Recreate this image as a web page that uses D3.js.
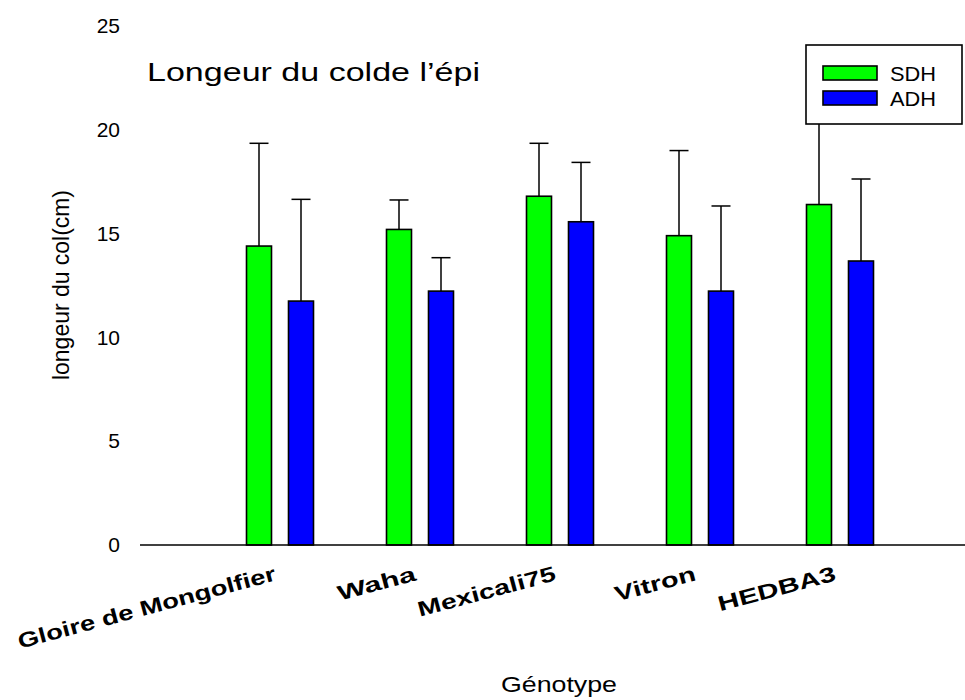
<!DOCTYPE html>
<html>
<head>
<meta charset="utf-8">
<script src="https://cdn.jsdelivr.net/npm/d3@7"></script>
<style>
  body { margin: 0; background: #fff; }
  svg { display: block; font-family: Arial, "Liberation Sans", sans-serif; }
</style>
</head>
<body>
<div id="chart"></div>
<script>
// data
var categories = ["Gloire de Mongolfier", "Waha", "Mexicali75", "Vitron", "HEDBA3"];
var sdhValues = [14.4, 15.2, 16.8, 14.9, 16.4];
var sdhErrors = [4.95, 1.42, 2.55, 4.1, 4.6];
var adhValues = [11.75, 12.23, 15.57, 12.23, 13.68];
var adhErrors = [4.9, 1.61, 2.86, 4.1, 3.95];
var yTicks = [0, 5, 10, 15, 20, 25];
var labelLengths = [266, 80, 142, 83, 121];

var width = 965, height = 700;

var svg = d3.select('#chart')
	.append('svg')
	.attr('width', width)
	.attr('height', height);

// scales
var x = d3.scaleLinear().domain([0, 6]).range([140, 980]);
var y = d3.scaleLinear().domain([0, 25]).range([545, 26]);

var barW = 25, offset = 8.5;

var series = [
	{ name: 'SDH', color: '#00ff00', values: sdhValues, errors: sdhErrors, dx: -offset - barW },
	{ name: 'ADH', color: '#0000ff', values: adhValues, errors: adhErrors, dx: offset }
];

//y axis labels only, no line or ticks
var yAxis = svg.append('g')
	.attr('transform', 'translate(126,0)')
	.call(d3.axisLeft(y).tickValues(yTicks).tickSize(0).tickPadding(6));
yAxis.select('.domain').remove();
yAxis.selectAll('text')
	.attr('font-size', 21)
	.attr('font-family', 'Arial, "Liberation Sans", sans-serif')
	.attr('fill', '#000');

// bars
series.forEach(function (s) {
	var g = svg.append('g');
	g.selectAll('rect')
		.data(s.values)
		.enter()
		.append('rect')
		.attr('x', function (d, i) { return x(i + 1) + s.dx; })
		.attr('y', function (d) { return y(d); })
		.attr('width', barW)
		.attr('height', function (d) { return y(0) - y(d); })
		.attr('fill', s.color)
		.attr('stroke', '#000')
		.attr('stroke-width', 1.6);

	// error bars (upper only)
	var eb = g.selectAll('g.err')
		.data(s.values)
		.enter()
		.append('g')
		.attr('class', 'err')
		.attr('stroke', '#000')
		.attr('stroke-width', 1.5);
	eb.append('line')
		.attr('x1', function (d, i) { return x(i + 1) + s.dx + barW / 2; })
		.attr('x2', function (d, i) { return x(i + 1) + s.dx + barW / 2; })
		.attr('y1', function (d) { return y(d); })
		.attr('y2', function (d, i) { return y(d + s.errors[i]); });
	eb.append('line')
		.attr('x1', function (d, i) { return x(i + 1) + s.dx + barW / 2 - 9.5; })
		.attr('x2', function (d, i) { return x(i + 1) + s.dx + barW / 2 + 9.5; })
		.attr('y1', function (d, i) { return y(d + s.errors[i]); })
		.attr('y2', function (d, i) { return y(d + s.errors[i]); });
});

// x axis line
svg.append('line')
	.attr('x1', x(0)).attr('x2', width)
	.attr('y1', y(0)).attr('y2', y(0))
	.attr('stroke', '#000')
	.attr('stroke-width', 1.6);

// category labels, tilted
svg.append('g')
	.selectAll('text')
	.data(categories)
	.enter()
	.append('text')
	.attr('transform', function (d, i) { return 'translate(' + (x(i + 1) - 3) + ',580) rotate(-15)'; })
	.attr('text-anchor', 'end')
	.attr('font-size', 21)
	.attr('font-weight', 'bold')
	.attr('textLength', function (d, i) { return labelLengths[i]; })
	.attr('lengthAdjust', 'spacingAndGlyphs')
	.text(function (d) { return d; });

// title
svg.append('text')
	.attr('x', 147).attr('y', 81)
	.attr('font-size', 26)
	.attr('textLength', 333)
	.attr('lengthAdjust', 'spacingAndGlyphs')
	.text('Longeur du colde l\u2019\u00e9pi');

// axis titles
svg.append('text')
	.attr('x', 559).attr('y', 692)
	.attr('text-anchor', 'middle')
	.attr('font-size', 22)
	.attr('textLength', 116)
	.attr('lengthAdjust', 'spacingAndGlyphs')
	.text('G\u00e9notype');

svg.append('text')
	.attr('transform', 'translate(69,285) rotate(-90)')
	.attr('text-anchor', 'middle')
	.attr('font-size', 24)
	.attr('textLength', 190)
	.attr('lengthAdjust', 'spacingAndGlyphs')
	.text('longeur du col(cm)');

// legend
var legend = svg.append('g');
legend.append('rect')
	.attr('x', 806).attr('y', 45)
	.attr('width', 156).attr('height', 79)
	.attr('fill', '#fff')
	.attr('stroke', '#000')
	.attr('stroke-width', 1.6);
var items = legend.selectAll('g.item')
	.data(series)
	.enter()
	.append('g')
	.attr('class', 'item')
	.attr('transform', function (d, i) { return 'translate(823,' + (66 + i * 25) + ')'; });
items.append('rect')
	.attr('width', 54).attr('height', 14)
	.attr('fill', function (d) { return d.color; })
	.attr('stroke', '#000')
	.attr('stroke-width', 1.6);
items.append('text')
	.attr('x', 67).attr('y', 15)
	.attr('font-size', 20)
	.attr('textLength', 46)
	.attr('lengthAdjust', 'spacingAndGlyphs')
	.text(function (d) { return d.name; });
</script>
</body>
</html>
